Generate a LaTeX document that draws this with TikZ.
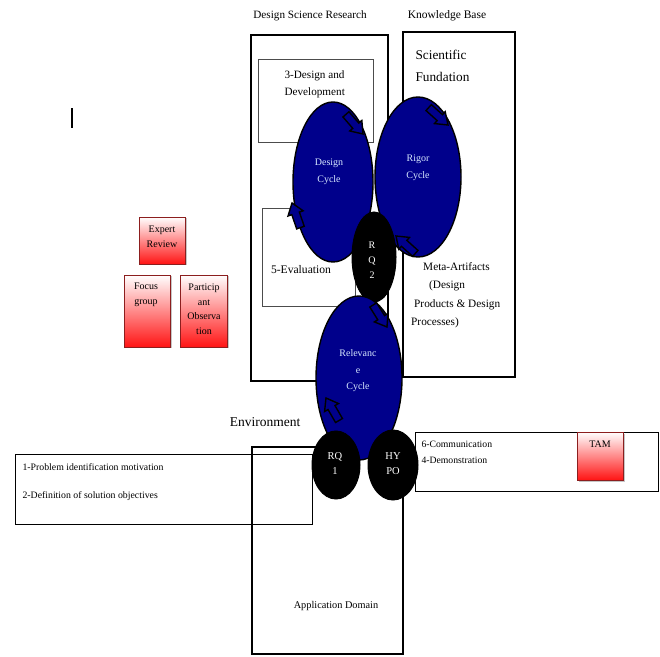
\documentclass[tikz,border=0pt]{standalone}
\usepackage{fontspec}
\setmainfont{Liberation Serif}
\usetikzlibrary{shapes.geometric, shadows}

\definecolor{cyclenavy}{RGB}{0,0,139}
\definecolor{cycletext}{RGB}{215,232,255}
\definecolor{boxred}{RGB}{255,20,20}
\definecolor{redborder}{RGB}{140,30,30}

\tikzset{
  thickbox/.style={draw, line width=2pt},
  thinbox/.style={draw=black!70, line width=0.6pt},
  cycleshape/.style={ellipse, draw, fill=cyclenavy, line width=1.4pt, inner sep=0pt},
  rqshape/.style={ellipse, draw, fill=black, line width=1pt, inner sep=0pt},
  cyclelabel/.style={text=cycletext, font=\fontsize{10}{16.5}\selectfont, align=center},
  redbox/.style={draw=redborder, line width=0.8pt, top color=white, bottom color=boxred,
    drop shadow={shadow xshift=1.5pt, shadow yshift=-1.5pt, opacity=0.45}},
  redlabel/.style={font=\fontsize{10}{14.5}\selectfont, align=center},
}

% block arrow sitting on the rim of a cycle: tip x, tip y, direction
\newcommand{\cyclearrow}[3]{%
  \draw[fill=cyclenavy, line width=1.4pt, line join=miter, shift={(#1,#2)}, rotate=#3]
    (0,0) -- (-11,8) -- (-11,4) -- (-26,4) -- (-26,-4) -- (-11,-4) -- (-11,-8) -- cycle;
}

\begin{document}
\begin{tikzpicture}[x=1pt, y=1pt]
        \useasboundingbox (0,0) rectangle (660,656);

        % Titles of the two upper areas
        \node[font=\fontsize{11.2}{13}\selectfont] (dsrtitle) at (310,640) {Design Science Research};
        \node[font=\fontsize{11.5}{13}\selectfont] (kbtitle) at (447,640) {Knowledge Base};

        % Outer frames
        \draw[thickbox, line width=2.4pt] (251,275) rectangle (388,621);
        \draw[thickbox] (403,279) rectangle (515,624);
        \draw[thickbox] (252,2) rectangle (403,209);

        % Inner activity boxes
        \draw[thinbox] (258,514) rectangle (373,597);
        \draw[thinbox] (262,350) rectangle (355,448);
        \draw[draw=black, line width=0.6pt] (15,132) rectangle (312,202);
        \draw[draw=black, line width=0.6pt] (415,165) rectangle (658,224);

        % Stray bar
        \draw[line width=1.4pt] (72,528) -- (72,548);

        % Texts of the frames
        \node[anchor=north west, align=left, font=\fontsize{13.3}{22}\selectfont] (sci) at (412,609) {Scientific\\Fundation};
        \node[anchor=north west, align=left, font=\fontsize{11.2}{17}\selectfont] (desdev) at (281,589) {3-Design and\\Development};
        \node[font=\fontsize{11.6}{13}\selectfont] (evaluation) at (301,386) {5-Evaluation};
        \node[anchor=north west, align=left, font=\fontsize{11.3}{18.5}\selectfont, inner sep=0pt] (meta) at (411,394)
          {\hspace{12pt}Meta-Artifacts\\\hspace{18pt}(Design\\\hspace{3pt}Products \& Design\\Processes)};
        \node[font=\fontsize{13.5}{15}\selectfont] (environment) at (265,234) {Environment};
        \node[font=\fontsize{10.3}{12}\selectfont] (appdomain) at (336,50) {Application Domain};
        \node[anchor=west, font=\fontsize{9.8}{11}\selectfont] (problem) at (19,189) {1-Problem identification motivation};
        \node[anchor=west, font=\fontsize{9.8}{11}\selectfont] (objectives) at (19,160) {2-Definition of solution objectives};
        \node[anchor=west, font=\fontsize{9.7}{11}\selectfont] (communication) at (418,212) {6-Communication};
        \node[anchor=west, font=\fontsize{9.7}{11}\selectfont] (demonstration) at (418,196) {4-Demonstration};

        % Cycles
        \node[cycleshape, minimum width=80pt, minimum height=160pt] (design) at (333,474) {};
        \node[cycleshape, minimum width=86pt, minimum height=160pt] (rigor) at (418,479) {};
        \node[rqshape, minimum width=44pt, minimum height=90pt] (rq2) at (374,399) {};
        \node[cycleshape, minimum width=86pt, minimum height=164pt] (relevance) at (359,278) {};
        \node[rqshape, minimum width=48pt, minimum height=68pt] (rq1) at (336,191) {};
        \node[rqshape, minimum width=50pt, minimum height=70pt] (hypo) at (393,191) {};

        % Arrow heads on the rims
        \cyclearrow{363}{522}{-49}
        \cyclearrow{448}{531}{-42}
        \cyclearrow{292}{453}{109}
        \cyclearrow{396}{420}{138}
        \cyclearrow{387}{329}{-58}
        \cyclearrow{326}{258}{120}

        % Cycle labels
        \node[cyclelabel] (designtext) at (329,484) {Design\\Cycle};
        \node[cyclelabel] (rigortext) at (418,488) {Rigor\\Cycle};
        \node[cyclelabel, text=white, font=\fontsize{10}{15}\selectfont] (rq2text) at (372,396) {R\\Q\\2};
        \node[cyclelabel] (relevancetext) at (358,285) {Relevanc\\e\\Cycle};
        \node[cyclelabel, text=white, font=\fontsize{10.5}{15}\selectfont] (rq1text) at (335,192) {RQ\\1};
        \node[cyclelabel, text=white, font=\fontsize{10.5}{15}\selectfont] (hypotext) at (393,192) {HY\\PO};

        % Evaluation methods
        \node[redbox, minimum width=46pt, minimum height=47pt] (expert) at (162,415.5) {};
        \node[redbox, minimum width=46pt, minimum height=72pt] (focus) at (147,345) {};
        \node[redbox, minimum width=47pt, minimum height=72pt] (particip) at (203.5,345) {};
        \node[redbox, minimum width=46pt, minimum height=48pt] (tam) at (600,200) {};
        \node[redlabel] at (162,419) {Expert\\Review};
        \node[redlabel] at (146,361) {Focus\\group};
        \node[redlabel] at (204,347) {Particip\\ant\\Observa\\tion};
        \node[redlabel] at (600,212) {TAM};
    \end{tikzpicture}
\end{document}
